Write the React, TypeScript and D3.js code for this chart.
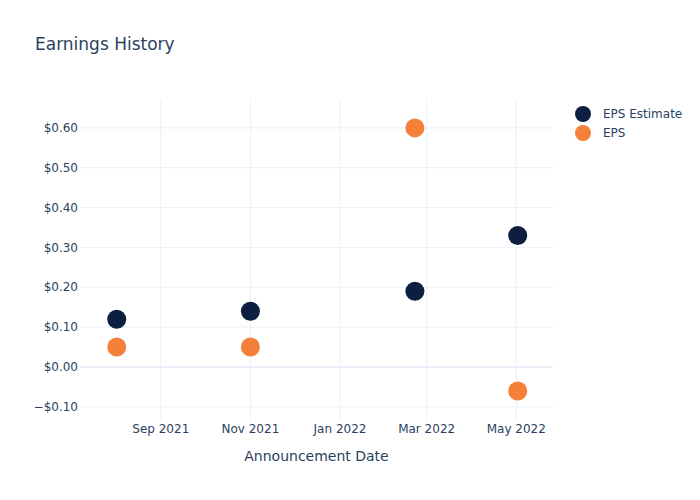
import React from "react";
import * as d3 from "d3";

const dates = ["2021-08-02", "2021-11-01", "2022-02-21", "2022-05-02"];
const epsEstimate = [0.12, 0.14, 0.19, 0.33];
const epsActual = [0.05, 0.05, 0.6, -0.06];
const xTickDates = ["2021-09-01", "2021-11-01", "2022-01-01", "2022-03-01", "2022-05-01"];
const xTickLabels = ["Sep 2021", "Nov 2021", "Jan 2022", "Mar 2022", "May 2022"];
const yTicks = [-0.1, 0, 0.1, 0.2, 0.3, 0.4, 0.5, 0.6];
const seriesNames = ["EPS Estimate", "EPS"];
const seriesColors = ["#0c1f40", "#f5803a"];

const W = 700, H = 500;
const M = { l: 80, r: 553, t: 100, b: 420 };
const FONT = "'DejaVu Sans', Verdana, sans-serif";
const TXT = "#2a3f5f";
const GRID = "#ebf0f8";

const parse = d3.utcParse("%Y-%m-%d");

export default function App() {
  const x = d3
    .scaleUtc()
    .domain([parse("2021-07-08")!, parse("2022-05-26")!])
    .range([M.l, M.r]);
  const y = d3.scaleLinear().domain([-0.133, 0.67]).range([M.b, M.t]);
  const fmt = (v: number) => (v < 0 ? "\u2212$" : "$") + Math.abs(v).toFixed(2);
  const series = [epsEstimate, epsActual];

  return (
    <svg width={W} height={H} style={{ position: "absolute", left: 0, top: 0, background: "#fff" }} fontFamily={FONT}>
      <rect x={0} y={0} width={W} height={H} fill="#fff" />
      {xTickDates.map((d, i) => (
        <line key={"xg" + i} x1={x(parse(d)!)} x2={x(parse(d)!)} y1={M.t} y2={M.b} stroke={GRID} strokeWidth={1} />
      ))}
      {yTicks.map((v, i) => (
        <line key={"yg" + i} x1={M.l} x2={M.r} y1={y(v)} y2={y(v)} stroke={GRID} strokeWidth={v === 0 ? 2 : 1} />
      ))}
      {yTicks.map((v, i) => (
        <text key={"yt" + i} x={M.l - 2} y={y(v)} dy="0.35em" textAnchor="end" fontSize={12} fill={TXT}>
          {fmt(v)}
        </text>
      ))}
      {xTickDates.map((d, i) => (
        <text key={"xt" + i} x={x(parse(d)!)} y={433} textAnchor="middle" fontSize={12} fill={TXT}>
          {xTickLabels[i]}
        </text>
      ))}
      <text x={(M.l + M.r) / 2} y={461} textAnchor="middle" fontSize={14} fill={TXT}>
        Announcement Date
      </text>
      <text x={35} y={50} fontSize={17} fill={TXT}>
        Earnings History
      </text>
      {series.map((vals, si) =>
        vals.map((v, i) => (
          <circle key={"p" + si + "-" + i} cx={x(parse(dates[i])!)} cy={y(v)} r={9.5} fill={seriesColors[si]} />
        ))
      )}
      {seriesNames.map((n, i) => (
        <g key={"lg" + i} transform={`translate(583,${114 + i * 19})`}>
          <circle cx={0} cy={0} r={8} fill={seriesColors[i]} />
          <text x={20} y={0} dy="0.35em" fontSize={12} fill={TXT}>
            {n}
          </text>
        </g>
      ))}
    </svg>
  );
}
